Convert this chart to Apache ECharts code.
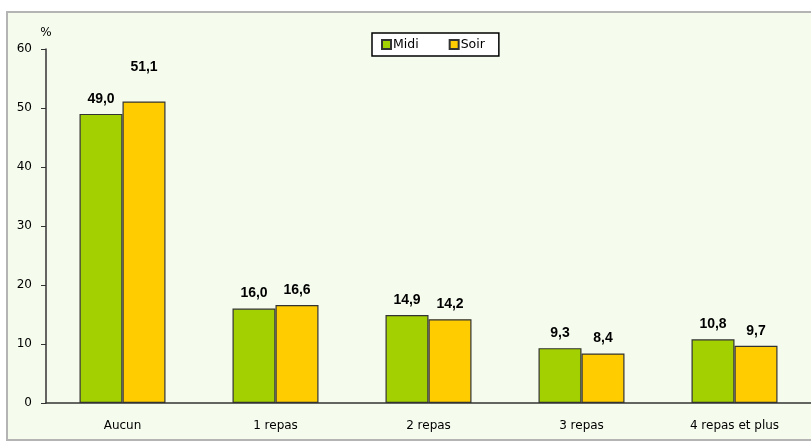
<!DOCTYPE html>
<html><head><meta charset="utf-8">
<script src="https://cdn.jsdelivr.net/npm/echarts@6/dist/echarts.min.js"></script>
<style>html,body{margin:0;padding:0;background:#fff;overflow:hidden}#c{width:811px;height:444px}</style>
</head><body><div id="c"></div>
<script>
const categories = ['Aucun', '1 repas', '2 repas', '3 repas', '4 repas et plus'];
const midi = [49.0, 16.0, 14.9, 9.3, 10.8];
const soir = [51.1, 16.6, 14.2, 8.4, 9.7];
const yTicks = [0, 10, 20, 30, 40, 50, 60];

const chart = echarts.init(document.getElementById('c'));
const fmt = p => p.value.toFixed(1).replace('.', ',');
const lbl = {show: true, position: 'top', distance: 8, formatter: fmt, fontFamily: 'Liberation Sans, Arial', fontWeight: 'bold', fontSize: 14, color: '#000'};
chart.setOption({
  animation: false,
  graphic: [{type: 'rect', shape: {x: 7, y: 12, width: 900, height: 428}, style: {fill: '#f5fcee', stroke: '#b4b4b4', lineWidth: 2}, z: -10}],
  legend: {left: 372, top: 33, data: ['Midi', 'Soir'], backgroundColor: '#fff', borderColor: '#000', borderWidth: 1.5, borderRadius: 0, padding: [5, 14, 5, 9], itemWidth: 9, itemHeight: 9, itemGap: 30, icon: 'rect', textStyle: {fontFamily: 'DejaVu Sans', fontSize: 12.5, color: '#000', padding: [0, 0, 0, -3]}},
  grid: {left: 46, right: -5, top: 49, bottom: 41},
  xAxis: {type: 'category', data: categories, axisLine: {lineStyle: {color: '#333', width: 1.5}}, axisTick: {length: 5, lineStyle: {color: '#333'}}, axisLabel: {margin: 17, fontFamily: 'DejaVu Sans', fontSize: 12, color: '#000'}},
  yAxis: {type: 'value', min: 0, max: 60, interval: 10, name: '%', nameGap: 10, nameTextStyle: {fontFamily: 'DejaVu Sans', fontSize: 12, color: '#000', align: 'center'}, splitLine: {show: false}, axisLine: {show: true, lineStyle: {color: '#333', width: 1.5}}, axisTick: {show: true, length: 5, lineStyle: {color: '#333'}}, axisLabel: {margin: 14, fontFamily: 'DejaVu Sans', fontSize: 12, color: '#000', formatter: v => yTicks.includes(v) ? String(v) : ''}},
  series: [
    {name: 'Midi', type: 'bar', data: midi.map((v, i) => i === 0 ? {value: v} : v), itemStyle: {color: '#a3d000', borderColor: '#333', borderWidth: 1.2}, barWidth: 43, barGap: '0%', label: lbl},
    {name: 'Soir', type: 'bar', data: soir.map((v, i) => i === 0 ? {value: v, label: {distance: 27}} : v), itemStyle: {color: '#ffcc00', borderColor: '#333', borderWidth: 1.2}, barWidth: 43, label: lbl}
  ]
});
</script></body></html>
